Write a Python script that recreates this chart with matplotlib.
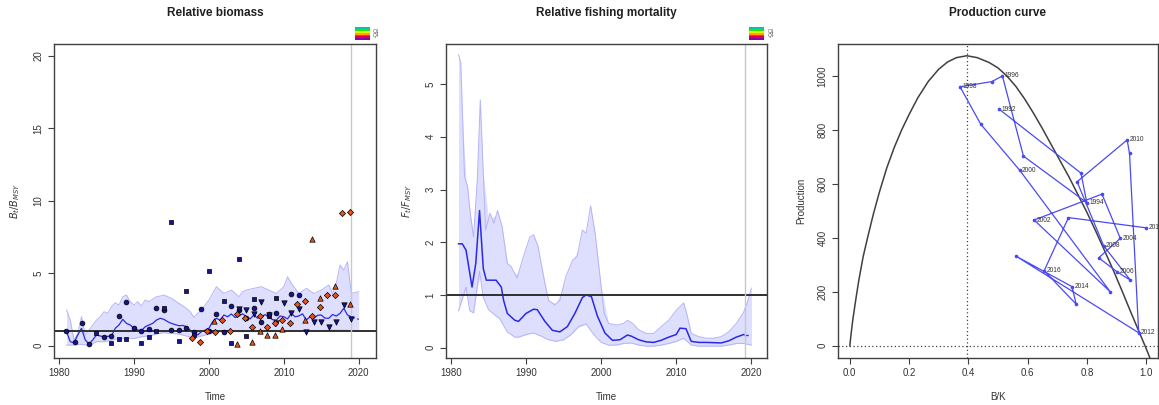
import numpy as np
import matplotlib
matplotlib.use('Agg')
import matplotlib.pyplot as plt

plt.rcParams['font.family'] = ['Liberation Sans', 'DejaVu Sans']

# ---------------- relative biomass ----------------
bb_year = [1981, 1981.5, 1982, 1982.5, 1983, 1983.5, 1984, 1984.5, 1985, 1985.5, 1986, 1987,
           1987.5, 1988, 1988.5, 1989, 1989.5, 1990, 1990.5, 1991, 1991.5, 1992, 1992.5, 1993,
           1993.5, 1994, 1994.5, 1995, 1996, 1996.5, 1997, 1997.5, 1998, 1998.5, 1999, 1999.5,
           2000, 2000.5, 2001, 2001.5, 2002, 2002.5, 2003, 2003.5, 2004, 2004.5, 2005, 2005.5,
           2006, 2006.5, 2007, 2007.5, 2008, 2008.5, 2009, 2009.5, 2010, 2010.5, 2011, 2011.5,
           2012, 2012.5, 2013, 2013.5, 2014, 2014.5, 2015, 2015.5, 2016, 2016.5, 2017, 2017.5,
           2018, 2018.5, 2019]
bb_med = [0.97, 0.28, 0.2, 0.74, 1.2, 0.4, 0.12, 0.4, 0.74, 0.67, 0.62, 0.67,
          1.2, 1.43, 1.82, 1.54, 1.43, 1.2, 1.08, 1.04, 1.31, 1.43, 1.54, 1.77,
          1.89, 1.82, 1.66, 1.54, 1.38, 1.4, 1.31, 1.08, 0.85, 0.74, 0.97, 1.08,
          1.2, 1.66, 1.89, 1.77, 2.12, 2.0, 2.19, 1.95, 2.05, 2.2, 2.0, 1.85,
          2.12, 1.9, 2.0, 2.15, 1.96, 1.8, 1.77, 2.05, 2.0, 1.85, 2.23, 2.0,
          2.05, 2.2, 1.77, 2.0, 1.89, 2.1, 2.12, 1.9, 1.89, 2.15, 2.05, 2.23,
          2.58, 2.12, 2.0]
bb_pred_year = [2019, 2019.5, 2020]
bb_pred = [2.0, 1.9, 1.82]

bb_ci_year = [1981, 1981.5, 1982, 1982.5, 1983, 1983.5, 1984, 1984.5, 1985, 1985.5, 1986, 1986.5,
              1987, 1987.5, 1988, 1988.5, 1989, 1989.5, 1990, 1990.5, 1991, 1991.5, 1992, 1993,
              1993.5, 1994, 1995, 1996, 1997, 1997.5, 1998, 1998.5, 1999, 2000, 2000.5, 2001,
              2001.5, 2002, 2003, 2004, 2004.5, 2005, 2006, 2007, 2008, 2009, 2010, 2010.5,
              2011, 2012, 2013, 2014, 2015, 2016, 2016.5, 2017, 2017.5, 2018, 2018.5, 2019, 2020]
bb_hi = [2.46, 1.77, 0.39, 0.85, 2.0, 0.74, 1.08, 1.43, 1.77, 2.0, 2.35, 2.23,
         2.69, 2.97, 2.8, 3.38, 3.5, 3.04, 2.8, 3.04, 2.74, 3.15, 3.04, 3.38,
         3.43, 3.5, 3.27, 2.92, 2.58, 2.35, 1.96, 2.23, 2.46, 3.15, 3.61, 4.07,
         3.84, 3.61, 3.84, 3.38, 3.73, 3.84, 3.96, 4.07, 3.84, 3.61, 4.07, 4.76,
         4.3, 3.61, 3.96, 3.61, 3.84, 4.19, 3.61, 4.3, 5.57, 5.22, 5.8, 3.61, 3.73]
bb_lo = [0.05, 0.04, 0.05, 0.08, 0.1, 0.06, 0.02, 0.15, 0.28, 0.28, 0.28, 0.33,
         0.39, 0.45, 0.5, 0.5, 0.5, 0.5, 0.5, 0.55, 0.62, 0.65, 0.67, 0.8,
         0.85, 0.9, 0.85, 0.8, 0.67, 0.6, 0.5, 0.6, 0.67, 0.8, 0.9, 0.97,
         0.97, 0.97, 1.0, 0.97, 0.97, 0.97, 0.97, 0.97, 0.97, 1.0, 1.04, 1.04,
         1.04, 1.0, 1.0, 1.0, 1.04, 1.08, 1.08, 1.08, 1.08, 1.08, 1.08, 0.97, 1.04]

circ_year = [1980.9, 1982.1, 1983.0, 1984.0, 1986.0, 1986.9, 1988.0, 1989.0, 1990.0, 1991.0,
             1992.0, 1993.0, 1994.0, 1995.0, 1996.0, 1997.0, 1998.0, 1999.0, 2000.0, 2001.0,
             2002.0, 2003.0, 2004.0, 2005.0, 2006.0, 2007.0, 2008.0, 2009.0, 2011.0, 2012.0]
circ_val = [1.01, 0.23, 1.59, 0.1, 0.6, 0.7, 2.05, 3.0, 1.24, 1.0,
            1.15, 2.58, 2.46, 1.08, 1.08, 1.24, 0.97, 2.5, 1.0, 2.2,
            0.92, 2.74, 2.46, 1.93, 2.62, 1.63, 2.2, 2.23, 3.54, 3.5]
sq_year = [1985.0, 1987.0, 1988.0, 1989.0, 1991.0, 1992.0, 1993.0, 1994.0, 1995.0, 1996.0,
           1997.0, 1998.0, 2000.0, 2002.0, 2003.0, 2004.0, 2005.0, 2006.0, 2008.0, 2009.0]
sq_val = [0.85, 0.16, 0.44, 0.44, 0.16, 0.58, 1.0, 2.58, 8.56, 0.35,
          3.77, 0.74, 5.18, 3.08, 0.16, 5.98, 0.67, 3.2, 2.05, 3.31]
dtri_year = [2004, 2005, 2006, 2007, 2008, 2009, 2010, 2011, 2012, 2013,
             2014, 2015, 2016, 2017, 2018, 2019]
dtri_val = [2.5, 2.46, 2.2, 3.04, 2.1, 1.54, 2.97, 2.23, 2.5, 0.97,
            1.66, 1.66, 1.27, 1.66, 2.8, 1.84]
utri_year = [2000.7, 2003.7, 2005.8, 2006.8, 2007.8, 2008.8, 2009.8, 2012.8, 2013.8, 2014.8,
             2016.8, 2018.8]
utri_val = [1.73, 0.09, 0.28, 1.04, 0.74, 0.74, 1.15, 1.77, 7.36, 3.31,
            4.12, 2.85]
dia_year = [1997.8, 1998.8, 1999.8, 2000.8, 2001.8, 2002.8, 2003.8, 2004.8, 2005.8, 2006.8,
            2007.8, 2008.8, 2009.8, 2010.8, 2011.8, 2012.8, 2013.8, 2014.8, 2015.8, 2016.8,
            2017.8, 2018.8]
dia_val = [0.5, 0.28, 1.0, 0.97, 1.77, 1.0, 2.2, 1.9, 1.3, 2.07,
           1.3, 1.6, 1.77, 1.54, 2.85, 3.08, 2.07, 2.7, 3.5, 3.5,
           9.18, 9.25]

# ---------------- relative fishing mortality ----------------
ff_year = [1981, 1981.5, 1982, 1982.8, 1983.3, 1983.8, 1984.3, 1984.7, 1986, 1986.7, 1987,
           1987.5, 1988.5, 1989, 1990, 1991, 1991.5, 1992.5, 1993.5, 1994.5, 1995.5, 1996.5,
           1997.5, 1998, 1998.7, 1999.5, 2000.5, 2001.5, 2002.5, 2003.5, 2004, 2005, 2006,
           2007, 2008, 2009, 2010, 2010.5, 2011.3, 2012, 2013, 2014, 2016, 2017, 2018, 2019]
ff_med = [1.97, 1.97, 1.85, 1.15, 1.6, 2.6, 1.5, 1.28, 1.28, 1.15, 0.9,
          0.65, 0.52, 0.5, 0.65, 0.73, 0.72, 0.5, 0.33, 0.3, 0.4, 0.65,
          0.95, 1.0, 0.97, 0.6, 0.28, 0.14, 0.15, 0.24, 0.22, 0.15, 0.11,
          0.1, 0.14, 0.2, 0.25, 0.37, 0.36, 0.12, 0.1, 0.1, 0.09, 0.13, 0.2, 0.25]
ff_pred_year = [2019, 2019.9]
ff_pred = [0.25, 0.25]

ffh_year = [1981, 1981.3, 1981.8, 1982.2, 1982.6, 1983, 1983.5, 1983.9, 1984.3, 1984.6,
            1985.2, 1985.7, 1986.2, 1986.8, 1987.5, 1988, 1988.8, 1989.5, 1990.5, 1991,
            1991.6, 1992.5, 1993, 1993.8, 1994.5, 1995.3, 1996.2, 1996.8, 1997.5, 1998,
            1998.6, 1999.2, 1999.8, 2000.4, 2001, 2002, 2003, 2003.5, 2004.2, 2005,
            2006, 2007, 2008, 2009, 2010, 2010.5, 2011, 2011.5, 2012, 2013,
            2014, 2015, 2016, 2017, 2018, 2019, 2019.5, 2020]
ff_hi = [5.56, 5.4, 3.25, 3.06, 2.5, 2.1, 3.18, 4.7, 3.3, 2.23,
         2.55, 2.36, 2.6, 2.3, 1.6, 1.54, 1.32, 1.66, 2.1, 2.14,
         1.92, 1.22, 0.9, 0.81, 0.9, 1.35, 1.66, 1.73, 2.23, 2.17,
         2.69, 2.17, 1.41, 0.65, 0.46, 0.43, 0.46, 0.52, 0.46, 0.34,
         0.27, 0.27, 0.4, 0.52, 0.71, 0.78, 0.85, 0.59, 0.27, 0.21,
         0.18, 0.18, 0.21, 0.3, 0.46, 0.68, 0.87, 1.13]
ffl_year = [1981, 1982, 1982.5, 1983, 1983.8, 1984.3, 1985, 1986, 1986.5, 1987,
            1987.5, 1988.5, 1989, 1990, 1991, 1992, 1993, 1994, 1995, 1996,
            1997, 1998, 1999, 2000, 2001, 2002, 2003, 2004, 2005, 2006,
            2007, 2008, 2009, 2010, 2011, 2012, 2013, 2014, 2016, 2017,
            2018, 2019, 2020]
ff_lo = [0.7, 1.15, 0.7, 0.66, 1.45, 0.95, 0.72, 0.6, 0.55, 0.42,
         0.3, 0.2, 0.2, 0.25, 0.28, 0.22, 0.15, 0.12, 0.15, 0.25,
         0.4, 0.45, 0.25, 0.1, 0.05, 0.05, 0.08, 0.09, 0.05, 0.03,
         0.03, 0.05, 0.08, 0.12, 0.18, 0.05, 0.03, 0.03, 0.03, 0.05,
         0.08, 0.08, 0.05]

# ---------------- production curve ----------------
curve_bk = [0, 0.005, 0.01, 0.02, 0.03, 0.045, 0.062, 0.08, 0.1, 0.125, 0.15, 0.175, 0.2,
            0.23, 0.265, 0.3, 0.33, 0.36, 0.395, 0.43, 0.47, 0.5, 0.53, 0.56, 0.59, 0.62,
            0.65, 0.68, 0.71, 0.74, 0.77, 0.8, 0.83, 0.86, 0.89, 0.92, 0.95, 0.98, 1.0, 1.02]
curve_p = [0, 50, 95, 170, 240, 330, 410, 490, 570, 660, 735, 800, 857,
           920, 980, 1025, 1052, 1068, 1075, 1068, 1050, 1030, 1000, 962, 915, 862,
           805, 745, 685, 625, 560, 495, 425, 352, 278, 200, 120, 42, -10, -65]
bmsy_k = 0.395

traj_year = [1992, 1993, 1994, 1995, 1996, 1997, 1998, 1999, 2000, 2001, 2002, 2003, 2004,
             2005, 2006, 2007, 2008, 2009, 2010, 2011, 2012, 2013, 2014, 2015, 2016, 2017, 2018]
traj_bk = [0.505, 0.78, 0.80, 0.586, 0.515, 0.479, 0.372, 0.442, 0.573, 0.879, 0.622, 0.851,
           0.913, 0.840, 0.902, 0.947, 0.857, 0.767, 0.936, 0.944, 0.975, 0.561, 0.75, 0.764,
           0.656, 0.738, 1.001]
traj_p = [876, 640, 530, 703, 1000, 979, 960, 821, 651, 200, 466, 562,
          398, 326, 274, 243, 370, 608, 763, 713, 48, 332, 219, 154,
          278, 475, 437]

key_colors = ['#00c8a0', '#30e000', '#e8f000', '#ffa000', '#ff3000', '#e0004a', '#9000a0']

navy = '#14148c'
orange = '#e4521b'
band = '#dedefe'
band_edge = '#b4b4fa'
medc = '#2a2ae6'
framec = '#404040'

fig = plt.figure(figsize=(11.59, 4.05), dpi=100)
ax1 = fig.add_axes([0.0466, 0.1160, 0.2778, 0.7754])
ax2 = fig.add_axes([0.3848, 0.1160, 0.2770, 0.7754])
ax3 = fig.add_axes([0.7230, 0.1160, 0.2761, 0.7754])


def style(ax, title, xlab, ylab):
    for s in ax.spines.values():
        s.set_color(framec)
        s.set_linewidth(1.0)
    ax.tick_params(direction='out', length=4, width=0.8, color=framec, labelsize=7,
                   labelcolor='#333333')
    for lab in ax.get_yticklabels():
        lab.set_rotation(90)
        lab.set_va('center')
    ax.text(0.5, 1.1, title, transform=ax.transAxes, ha='center', va='center',
            fontsize=8.5, fontweight='bold', color='#202020')
    ax.set_xlabel(xlab, fontsize=7, color='#333333', labelpad=10)
    ax.set_ylabel(ylab, fontsize=7, color='#333333', labelpad=8)


def rainbow_key(x0):
    cax = fig.add_axes([x0, 0.901, 0.013, 0.032])
    n = len(key_colors)
    for i, col in enumerate(key_colors):
        cax.axhspan(1 - (i + 1) / n, 1 - i / n, color=col, lw=0)
    cax.set_xlim(0, 1)
    cax.set_ylim(0, 1)
    cax.set_xticks([])
    cax.set_yticks([])
    for s in cax.spines.values():
        s.set_visible(False)
    fig.text(x0 + 0.016, 0.917, 'Q1\nQ4', fontsize=3.5, color='#555555', va='center',
             linespacing=0.8)


# panel 1
ax1.fill_between(bb_ci_year, bb_lo, bb_hi, color=band, lw=0)
ax1.plot(bb_ci_year, bb_hi, color=band_edge, lw=0.7)
ax1.plot(bb_ci_year, bb_lo, color=band_edge, lw=0.7)
ax1.plot(bb_year, bb_med, color=medc, lw=0.9)
ax1.plot(bb_pred_year, bb_pred, color=medc, lw=0.9, ls=(0, (3, 2)))
ax1.axhline(1, color='#303030', lw=1.4)
ax1.axvline(2019.0, color='#c8c8c8', lw=1.0)
mk = dict(edgecolors='black', linewidths=0.5, zorder=3)
ax1.scatter(circ_year, circ_val, s=12, marker='o', c=navy, **mk)
ax1.scatter(sq_year, sq_val, s=11, marker='s', c=navy, **mk)
ax1.scatter(dtri_year, dtri_val, s=15, marker='v', c=navy, **mk)
ax1.scatter(utri_year, utri_val, s=15, marker='^', c=orange, **mk)
ax1.scatter(dia_year, dia_val, s=10, marker='D', c=orange, **mk)
ax1.set_xlim(1979.33, 2022.3)
ax1.set_ylim(-0.85, 20.83)
ax1.set_xticks([1980, 1990, 2000, 2010, 2020])
ax1.set_yticks([0, 5, 10, 15, 20])
style(ax1, 'Relative biomass', 'Time', r'$B_t/B_{MSY}$')
rainbow_key(0.306)

# panel 2
ax2.fill_between(ffh_year, np.interp(ffh_year, ffl_year, ff_lo), ff_hi, color=band, lw=0)
ax2.fill_between(ffl_year, ff_lo, np.interp(ffl_year, ffh_year, ff_hi), color=band, lw=0)
ax2.plot(ffh_year, ff_hi, color=band_edge, lw=0.7)
ax2.plot(ffl_year, ff_lo, color=band_edge, lw=0.7)
ax2.plot(ff_year, ff_med, color=medc, lw=1.1)
ax2.plot(ff_pred_year, ff_pred, color=medc, lw=1.0, ls=(0, (3, 2)))
ax2.axhline(1, color='#303030', lw=1.4)
ax2.axvline(2019.1, color='#c8c8c8', lw=1.0)
ax2.set_xlim(1979.33, 2022.1)
ax2.set_ylim(-0.196, 5.76)
ax2.set_xticks([1980, 1990, 2000, 2010, 2020])
ax2.set_yticks([0, 1, 2, 3, 4, 5])
style(ax2, 'Relative fishing mortality', 'Time', r'$F_t/F_{MSY}$')
rainbow_key(0.6465)

# panel 3
ax3.plot(curve_bk, curve_p, color='#404040', lw=1.1)
ax3.axvline(bmsy_k, color='#404040', lw=0.9, ls=(0, (1, 2)))
ax3.axhline(0, color='#404040', lw=0.9, ls=(0, (1, 2)))
ax3.plot(traj_bk, traj_p, color='#4a4af5', lw=0.9, marker='o', ms=1.6)
for yr, bk, p in zip(traj_year, traj_bk, traj_p):
    if yr % 2 == 0:
        ax3.text(bk + 0.008, p, str(yr), fontsize=4.8, color='#333333', va='center',
                 clip_on=True)
ax3.set_xlim(-0.04, 1.04)
ax3.set_ylim(-45.6, 1118.6)
ax3.set_xticks([0.0, 0.2, 0.4, 0.6, 0.8, 1.0])
ax3.set_yticks([0, 200, 400, 600, 800, 1000])
style(ax3, 'Production curve', 'B/K', 'Production')

fig.savefig('out.png', dpi=100)
